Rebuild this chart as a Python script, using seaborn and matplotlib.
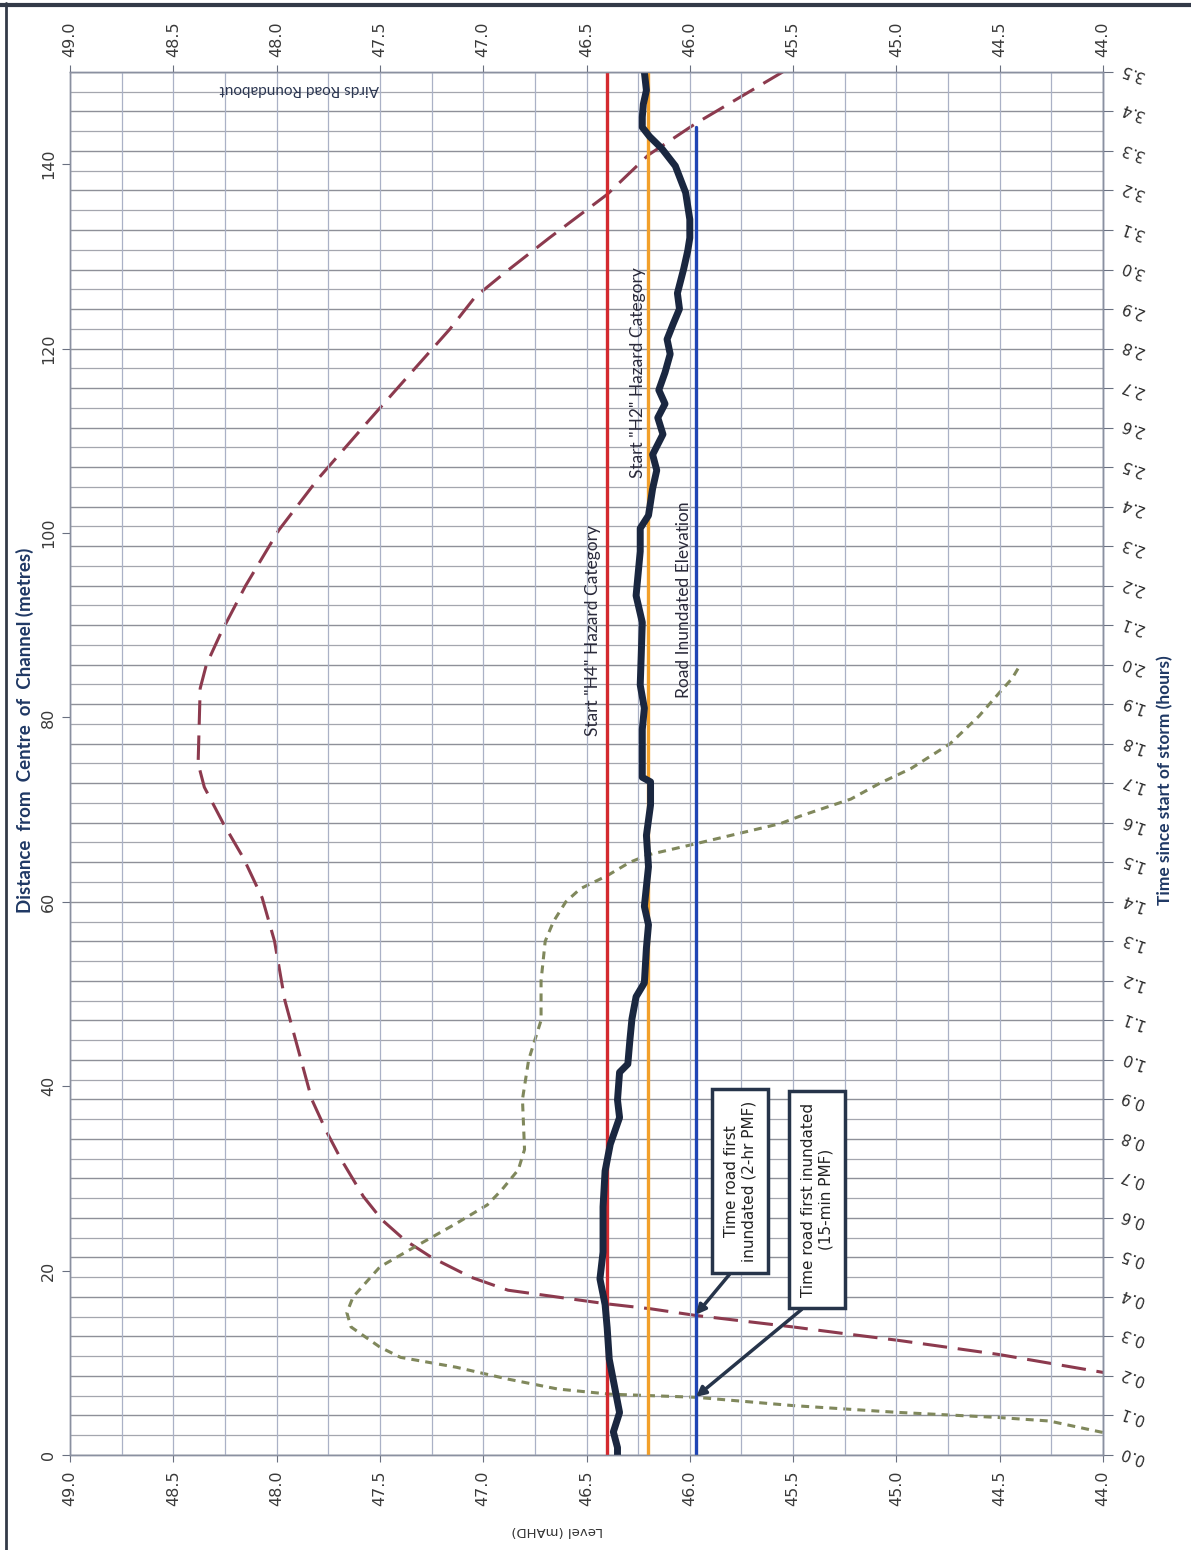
import matplotlib
matplotlib.use("Agg")
import matplotlib.pyplot as plt
import seaborn as sns
from matplotlib.lines import Line2D
from matplotlib.ticker import MultipleLocator, FormatStrFormatter

# Road level profile (distance from centre of channel)
DISTANCE_M = [0, 0.8, 2.5, 4.6, 7.5, 10.4, 13.8, 16.3, 19.1, 22, 26.9, 30.8, 33.7,
              36.6, 38.5, 41.5, 42.4, 45, 47.3, 49.7, 51.2, 55, 57.5, 59.5, 63.8,
              67.2, 70.5, 73, 73.5, 75.8, 78.7, 81, 83.5, 86.8, 90.3, 93.2, 95.6,
              98, 100.5, 101.9, 104.8, 106.8, 108.5, 110.7, 112.5, 114, 115.5,
              117.4, 119.4, 121, 122.7, 124.3, 126, 128.6, 130.6, 132, 134, 136.9,
              139.8, 141.7, 143, 144, 145.1, 146.5, 148, 150]
PROFILE_LEVEL = [46.35, 46.35, 46.37, 46.34, 46.365, 46.39, 46.40, 46.41, 46.435,
                 46.42, 46.42, 46.41, 46.385, 46.34, 46.35, 46.34, 46.30, 46.29,
                 46.28, 46.26, 46.22, 46.21, 46.20, 46.22, 46.20, 46.21, 46.19,
                 46.19, 46.23, 46.23, 46.23, 46.22, 46.24, 46.235, 46.23, 46.26,
                 46.25, 46.24, 46.24, 46.20, 46.18, 46.16, 46.18, 46.13, 46.155,
                 46.12, 46.15, 46.12, 46.095, 46.11, 46.08, 46.05, 46.06, 46.03,
                 46.01, 46.0, 46.0, 46.02, 46.07, 46.136, 46.195, 46.23, 46.23,
                 46.225, 46.21, 46.22]

# 2-hr PMF water level vs time
TIME_2HR = [0.18, 0.209, 0.254, 0.29, 0.307, 0.324, 0.353, 0.37, 0.383, 0.417, 0.45,
            0.50, 0.544, 0.595, 0.654, 0.75, 0.82, 0.9, 1.15, 1.3, 1.41, 1.51, 1.6,
            1.69, 1.75, 1.94, 2.0, 2.08, 2.2, 2.34, 2.47, 2.62, 2.75, 2.85, 2.93,
            2.99, 3.08, 3.19, 3.29, 3.37, 3.5]
LEVEL_2HR = [43.75, 44.0, 44.5, 44.99, 45.25, 45.5, 45.97, 46.19, 46.41, 46.88, 47.06,
             47.25, 47.38, 47.49, 47.58, 47.69, 47.76, 47.83, 47.96, 48.01, 48.07,
             48.16, 48.26, 48.35, 48.38, 48.37, 48.34, 48.27, 48.15, 47.99, 47.80,
             47.55, 47.33, 47.16, 47.04, 46.90, 46.68, 46.40, 46.20, 45.97, 45.55]

# 15-min PMF water level vs time
TIME_15MIN = [0.04, 0.058, 0.086, 0.095, 0.108, 0.125, 0.146, 0.154, 0.167, 0.192,
              0.222, 0.247, 0.273, 0.324, 0.36, 0.40, 0.476, 0.527, 0.586, 0.633,
              0.671, 0.722, 0.773, 0.9, 1.0, 1.05, 1.1, 1.2, 1.3, 1.35, 1.40, 1.433,
              1.466, 1.50, 1.519, 1.547, 1.598, 1.616, 1.66, 1.70, 1.737, 1.80, 1.87,
              1.93, 1.965, 2.0]
LEVEL_15MIN = [43.8, 44.01, 44.26, 44.51, 45.0, 45.5, 45.97, 46.39, 46.64, 46.88,
               47.13, 47.40, 47.5, 47.64, 47.66, 47.63, 47.5, 47.33, 47.13, 46.98,
               46.91, 46.83, 46.80, 46.81, 46.78, 46.75, 46.72, 46.72, 46.70, 46.66,
               46.60, 46.53, 46.40, 46.29, 46.20, 45.97, 45.56, 45.47, 45.22, 45.08,
               44.93, 44.74, 44.60, 44.50, 44.44, 44.40]

H4_LEVEL = 46.40
H2_LEVEL = 46.20
ROAD_LEVEL = 45.97
ROAD_LINE_END_M = 144

LEVEL_TICKS = [49.0, 48.5, 48.0, 47.5, 47.0, 46.5, 46.0, 45.5, 45.0, 44.5, 44.0]
DIST_TICKS = [0, 20, 40, 60, 80, 100, 120, 140]
TIME_TICKS = [i / 10 for i in range(36)]

NAVY = "#1f3864"

sns.set_style("white")
plt.rcParams["font.family"] = ["DejaVu Sans"]

fig = plt.figure(figsize=(11.91, 15.5), dpi=100)
ax = fig.add_axes([0.0588, 0.0613, 0.8673, 0.8923])
ax2 = ax.twinx()
# road profile axis on top, time axis (with its grid) underneath
ax.set_zorder(2)
ax2.set_zorder(1)
ax.patch.set_visible(False)
ax2.patch.set_visible(True)
ax2.patch.set_facecolor("white")

ax.set_xlim(49, 44)
ax.set_ylim(0, 150)
ax2.set_ylim(0, 3.5)

# grids
ax.set_xticks(LEVEL_TICKS)
ax.xaxis.set_minor_locator(MultipleLocator(0.25))
ax.grid(axis="x", which="both", color="#aab1c6", lw=0.9)
ax.grid(axis="y", visible=False)
ax2.set_yticks(TIME_TICKS)
ax2.yaxis.set_minor_locator(MultipleLocator(0.05))
ax2.grid(axis="y", which="major", color="#8e9098", lw=1.0)
ax2.grid(axis="y", which="minor", color="#a4a6ae", lw=0.9)

# storm hydrographs on time axis
sns.lineplot(x=LEVEL_2HR, y=TIME_2HR, sort=False, estimator=None, ax=ax2,
             color="#8c3a4e", lw=2.2)
ax2.lines[-1].set_dashes((8, 3.5))
sns.lineplot(x=LEVEL_15MIN, y=TIME_15MIN, sort=False, estimator=None, ax=ax2,
             color="#80885c", lw=2.2)
ax2.lines[-1].set_dashes((2.6, 2.0))

# reference levels and road profile
ax.axvline(H4_LEVEL, color="#d42a2f", lw=2.4)
ax.axvline(H2_LEVEL, color="#f2a02a", lw=2.4)
ax.axvline(ROAD_LEVEL, ymax=ROAD_LINE_END_M / 150, color="#1f45b5", lw=2.4)
sns.lineplot(x=PROFILE_LEVEL, y=DISTANCE_M, sort=False, estimator=None, ax=ax,
             color="#1a2740", lw=5)

# ticks
ax.tick_params(axis="x", which="major", top=True, labeltop=True, bottom=True,
               labelbottom=True, labelrotation=90, length=5, width=0.8,
               color="#6a7080", labelsize=11.5, labelcolor="#3a3a3a", pad=6)
ax.tick_params(axis="x", which="minor", length=0)
ax.xaxis.set_major_formatter(FormatStrFormatter("%.1f"))
ax.set_yticks(DIST_TICKS)
ax.tick_params(axis="y", left=True, labelleft=True, labelrotation=90, length=6,
               width=0.8, color="#6a7080", labelsize=11.5, labelcolor="#3a3a3a",
               pad=4)
for lab in ax.get_yticklabels():
    lab.set_va("center")
ax2.tick_params(axis="y", which="major", right=True, labelright=True,
                labelrotation=160, length=7, width=0.8, color="#6a7080",
                labelsize=11, labelcolor="#2a2a2a", pad=4)
ax2.tick_params(axis="y", which="minor", length=0)
ax2.yaxis.set_major_formatter(FormatStrFormatter("%.1f"))
for lab in ax2.get_yticklabels():
    lab.set_va("center")

for a in (ax, ax2):
    for s in a.spines.values():
        s.set_color("#8a90a0")
        s.set_linewidth(1)
ax2.spines["right"].set_color("#5a6580")

# texts
ax.text(47.89, 148.1, "Airds Road Roundabout", rotation=180, ha="center",
        va="center", fontsize=11, color="#2a3550", family="Lato")
ax.text(46.47, 89.4, 'Start "H4" Hazard Category', rotation=90, ha="center",
        va="center", fontsize=12.5, color="#2a2a3a", family="Lato")
ax.text(46.25, 117.4, 'Start "H2" Hazard Category', rotation=90, ha="center",
        va="center", fontsize=12.5, color="#2a2a3a", family="Lato")
ax.text(46.03, 92.8, "Road Inundated Elevation", rotation=90, ha="center",
        va="center", fontsize=12.5, color="#2a2a3a", family="Lato")

box = dict(boxstyle="square,pad=0.75", fc="white", ec="#26344a", lw=2.5)
arrow = dict(arrowstyle="-|>", color="#26344a", lw=2.5, mutation_scale=14,
             shrinkA=0, shrinkB=0, relpos=(0.5, 0))
ax.annotate("Time road first\ninundated (2-hr PMF)", xy=(ROAD_LEVEL, 0.355),
            xycoords=ax2.transData, xytext=(45.757, 29.7), textcoords="data",
            rotation=90, ha="center", va="center", fontsize=11, color="#222",
            bbox=box, arrowprops=arrow)
ax.annotate("Time road first inundated\n(15-min PMF)", xy=(ROAD_LEVEL, 0.147),
            xycoords=ax2.transData, xytext=(45.384, 27.7), textcoords="data",
            rotation=90, ha="center", va="center", fontsize=11, color="#222",
            bbox=box, arrowprops=arrow)

fig.text(25 / 1191, 1 - 730 / 1550, "Distance  from  Centre  of  Channel (metres)",
         rotation=90, ha="center", va="center", fontsize=13.5, weight="bold",
         color=NAVY, family="Lato")
fig.text(1165 / 1191, 1 - 780 / 1550, "Time since start of storm (hours)",
         rotation=90, ha="center", va="center", fontsize=12.5, weight="bold",
         color=NAVY, family="Lato")
fig.text(557 / 1191, 1 - 1530 / 1550, "Level (mAHD)", rotation=180, ha="center",
         va="center", fontsize=9.5, color="#333")

# page frame from the scan
fig.add_artist(Line2D([0.005, 0.005], [0, 0.998], transform=fig.transFigure,
                      color="#333a48", lw=2))
fig.add_artist(Line2D([0, 1], [0.997, 0.997], transform=fig.transFigure,
                      color="#333a48", lw=3))

fig.savefig("out.png", dpi=100)
